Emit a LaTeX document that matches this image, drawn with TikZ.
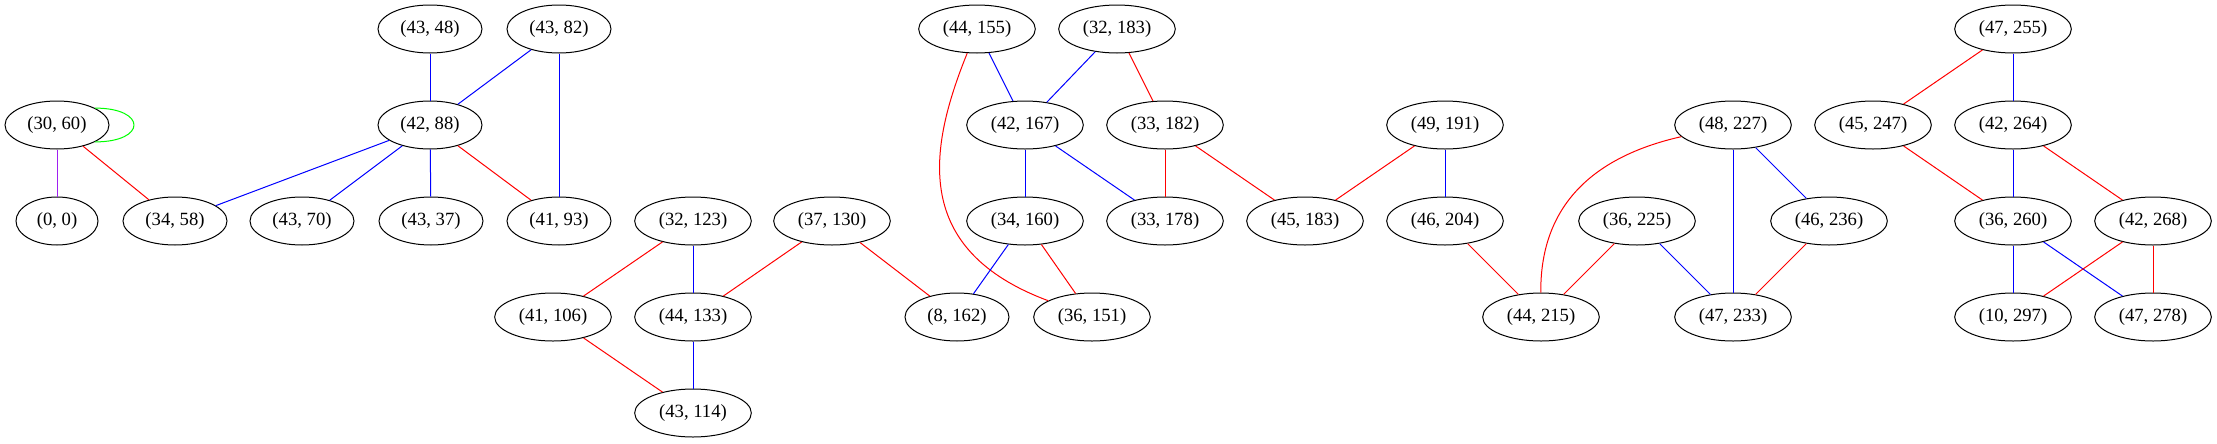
\documentclass[tikz,border=0pt]{standalone}
\usepackage{fontspec}
\setmainfont{Liberation Serif}
\usetikzlibrary{shapes.geometric}
\definecolor{gvpurple}{HTML}{A020F0}
\definecolor{gvgreen}{HTML}{00FF00}

\tikzset{
  pair/.style={ellipse, draw, line width=0.75pt, inner sep=0pt,
    minimum width=78pt, minimum height=36pt,
    font=\fontsize{14}{16}\selectfont},
  wide/.style={pair, minimum width=87.5pt},
  narrow/.style={pair, minimum width=61.5pt},
  redline/.style={draw=red, line width=0.75pt},
  blueline/.style={draw=blue, line width=0.75pt},
}

\begin{document}
\begin{tikzpicture}[x=0.75pt, y=-0.75pt]
\useasboundingbox (0,0) rectangle (2217,443);
% rank 1
\node[pair] (n4348)  at (430,29)  {(43, 48)};
\node[pair] (n4382)  at (559,29)  {(43, 82)};
\node[wide] (n44155) at (977,29)  {(44, 155)};
\node[wide] (n32183) at (1117,29) {(32, 183)};
\node[wide] (n47255) at (2013,29) {(47, 255)};
% rank 2
\node[pair] (n3060)  at (57,125)   {(30, 60)};
\node[pair] (n4288)  at (430,125)  {(42, 88)};
\node[wide] (n42167) at (1025,125) {(42, 167)};
\node[wide] (n33182) at (1165,125) {(33, 182)};
\node[wide] (n49191) at (1445,125) {(49, 191)};
\node[wide] (n48227) at (1733,125) {(48, 227)};
\node[wide] (n45247) at (1873,125) {(45, 247)};
\node[wide] (n42264) at (2013,125) {(42, 264)};
% rank 3
\node[narrow] (n00)  at (57,221)   {(0, 0)};
\node[pair] (n3458)  at (175,221)  {(34, 58)};
\node[pair] (n4370)  at (302,221)  {(43, 70)};
\node[pair] (n4337)  at (431,221)  {(43, 37)};
\node[pair] (n4193)  at (559,221)  {(41, 93)};
\node[wide] (n32123) at (693,221)  {(32, 123)};
\node[wide] (n37130) at (832,221)  {(37, 130)};
\node[wide] (n34160) at (1025,221) {(34, 160)};
\node[wide] (n33178) at (1165,221) {(33, 178)};
\node[wide] (n45183) at (1305,221) {(45, 183)};
\node[wide] (n46204) at (1445,221) {(46, 204)};
\node[wide] (n36225) at (1637,221) {(36, 225)};
\node[wide] (n46236) at (1829,221) {(46, 236)};
\node[wide] (n36260) at (2013,221) {(36, 260)};
\node[wide] (n42268) at (2153,221) {(42, 268)};
% rank 4
\node[wide] (n41106) at (553,317)  {(41, 106)};
\node[wide] (n44133) at (693,317)  {(44, 133)};
\node[pair] (n8162)  at (957,317)  {(8, 162)};
\node[wide] (n36151) at (1092,317) {(36, 151)};
\node[wide] (n44215) at (1541,317) {(44, 215)};
\node[wide] (n47233) at (1733,317) {(47, 233)};
\node[wide] (n10297) at (2013,317) {(10, 297)};
\node[wide] (n47278) at (2153,317) {(47, 278)};
% rank 5
\node[wide] (n43114) at (693,413)  {(43, 114)};

% edges
\draw[gvgreen, line width=0.75pt] (n3060.24) .. controls +(52,0) and +(52,0) .. (n3060.-24);
\draw[gvpurple, line width=0.75pt] (n3060) -- (n00);
\draw[redline] (n3060) -- (n3458);
\draw[blueline] (n4288) -- (n3458);
\draw[blueline] (n4288) -- (n4370);
\draw[blueline] (n4288) -- (n4337);
\draw[redline] (n4288) -- (n4193);
\draw[blueline] (n4348) -- (n4288);
\draw[blueline] (n4382) -- (n4288);
\draw[blueline] (n4382) -- (n4193);
\draw[redline] (n32123) -- (n41106);
\draw[blueline] (n32123) -- (n44133);
\draw[redline] (n37130) -- (n44133);
\draw[redline] (n37130) -- (n8162);
\draw[redline] (n41106) -- (n43114);
\draw[blueline] (n44133) -- (n43114);
\draw[blueline] (n44155) -- (n42167);
\draw[redline] (n44155) .. controls (928,150) and (912,250) .. (n36151);
\draw[blueline] (n32183) -- (n42167);
\draw[redline] (n32183) -- (n33182);
\draw[blueline] (n42167) -- (n34160);
\draw[blueline] (n42167) -- (n33178);
\draw[redline] (n33182) -- (n33178);
\draw[redline] (n33182) -- (n45183);
\draw[blueline] (n34160) -- (n8162);
\draw[redline] (n34160) -- (n36151);
\draw[redline] (n49191) -- (n45183);
\draw[blueline] (n49191) -- (n46204);
\draw[redline] (n46204) -- (n44215);
\draw[redline] (n48227) .. controls (1600,155) and (1540,200) .. (n44215);
\draw[blueline] (n48227) -- (n47233);
\draw[blueline] (n48227) -- (n46236);
\draw[redline] (n36225) -- (n44215);
\draw[blueline] (n36225) -- (n47233);
\draw[redline] (n46236) -- (n47233);
\draw[redline] (n47255) -- (n45247);
\draw[blueline] (n47255) -- (n42264);
\draw[redline] (n45247) -- (n36260);
\draw[blueline] (n42264) -- (n36260);
\draw[redline] (n42264) -- (n42268);
\draw[blueline] (n36260) -- (n10297);
\draw[blueline] (n36260) -- (n47278);
\draw[redline] (n42268) -- (n10297);
\draw[redline] (n42268) -- (n47278);
\end{tikzpicture}
\end{document}
